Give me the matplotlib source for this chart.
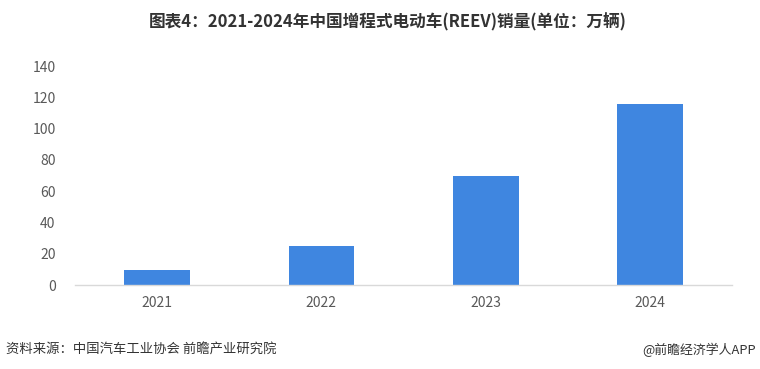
import matplotlib.pyplot as plt

plt.rcParams['font.family'] = ['Noto Sans CJK SC', 'DejaVu Sans']

years = ['2021', '2022', '2023', '2024']
sales = [9.5, 25, 69.5, 116]
yticks = [0, 20, 40, 60, 80, 100, 120, 140]

fig = plt.figure(figsize=(7.6, 3.69), dpi=100)
ax = fig.add_axes([0.0987, 0.2276, 0.8645, 0.5935])

x = range(len(years))
ax.bar(x, sales, width=0.4, color='#3f86e0', zorder=2)

ax.set_xlim(-0.5, 3.5)
ax.set_ylim(0, 140)
ax.set_yticks(yticks)
ax.set_xticks(list(x))
ax.set_xticklabels(years)
ax.tick_params(axis='both', length=0, colors='#595959', labelsize=10)
ax.tick_params(axis='y', pad=14)
ax.tick_params(axis='x', pad=8)

for s in ['top', 'right', 'left']:
    ax.spines[s].set_visible(False)
ax.spines['bottom'].set_color('#d9d9d9')
ax.spines['bottom'].set_linewidth(1)

fig.text(0.51, 0.94, '图表4：2021-2024年中国增程式电动车(REEV)销量(单位：万辆)',
         ha='center', va='center', fontsize=12, fontweight='bold', color='#333333')
fig.text(0.008, 0.053, '资料来源：中国汽车工业协会 前瞻产业研究院',
         ha='left', va='center', fontsize=9.6, color='#333333')
fig.text(0.995, 0.053, '@前瞻经济学人APP',
         ha='right', va='center', fontsize=9.3, color='#333333')

fig.savefig('out.png', dpi=100)
